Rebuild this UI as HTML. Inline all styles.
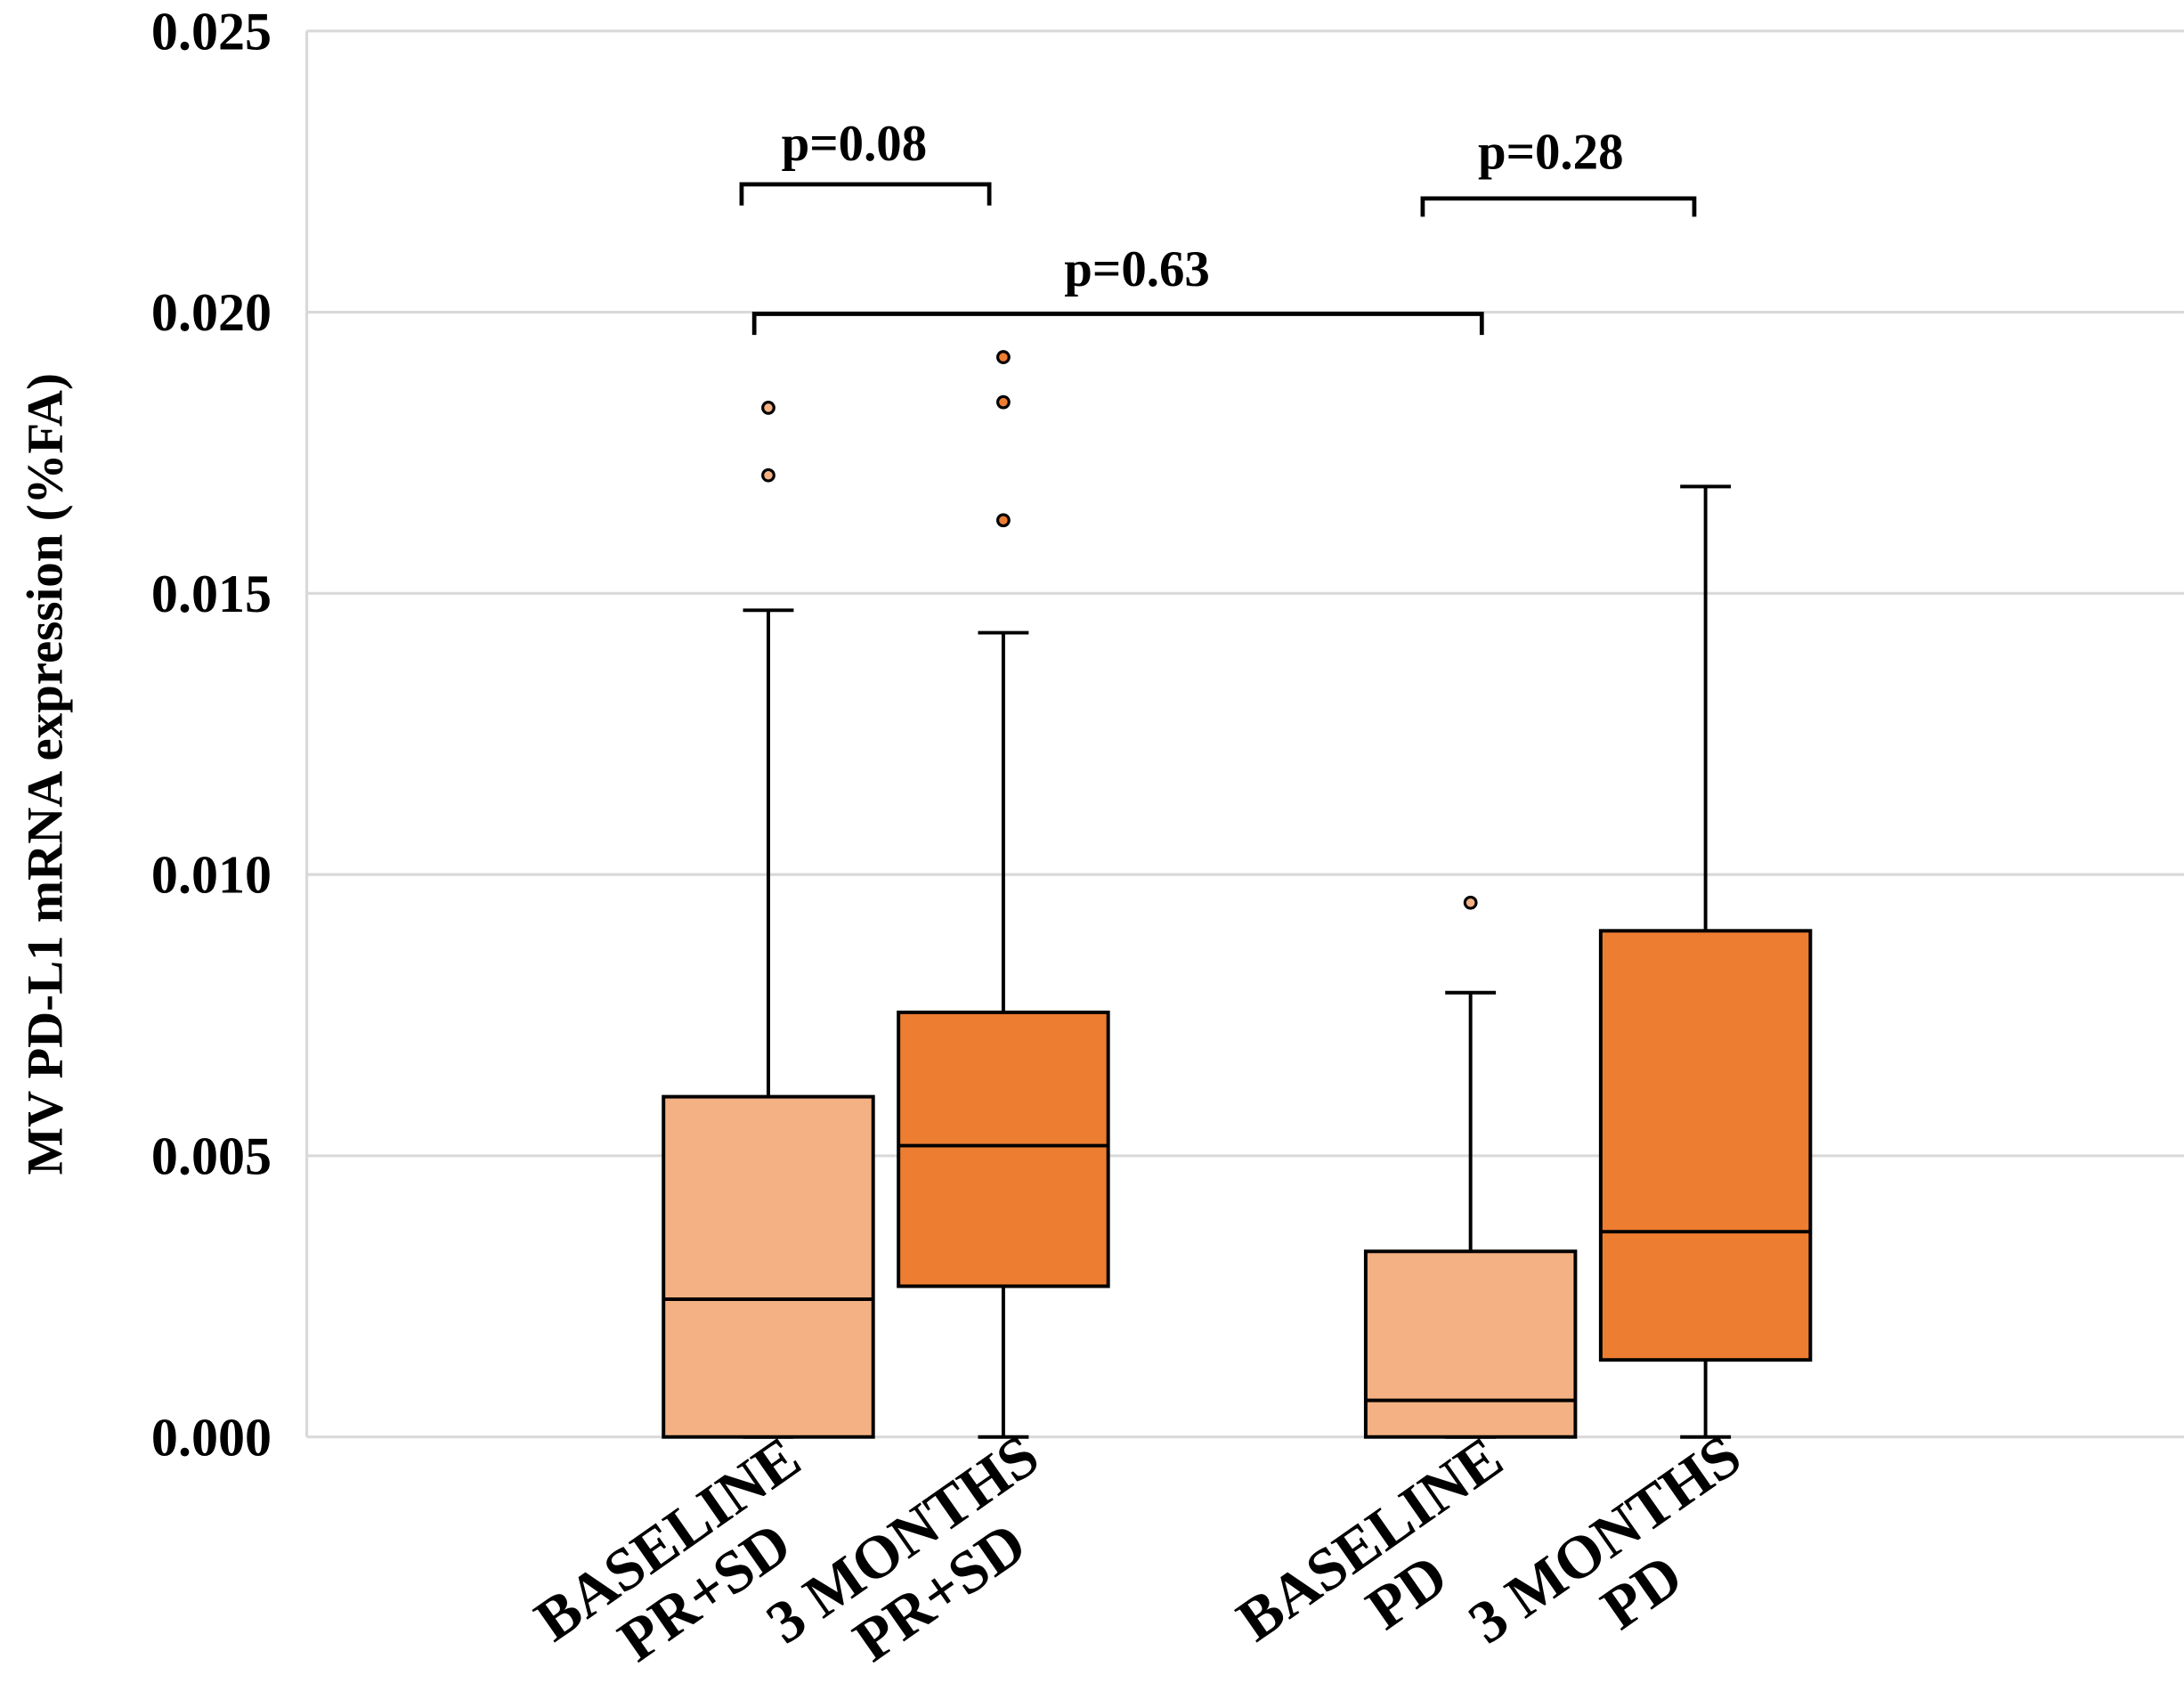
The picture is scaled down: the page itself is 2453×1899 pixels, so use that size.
<!DOCTYPE html>
<html><head><meta charset="utf-8"><style>html,body{margin:0;padding:0;background:#fff}svg{display:block}</style></head>
<body>
<svg id="chart" width="2453" height="1899" viewBox="0 0 1552 1201.5" xmlns="http://www.w3.org/2000/svg" font-family="'Liberation Serif', serif" font-weight="bold">
<g id="grid"></g><g id="boxes"></g><g id="xlabels"></g>
<text transform="translate(44,550) rotate(-90)" text-anchor="middle" font-size="36">MV PD-L1 mRNA expression (%FA)</text>
<g fill="none" stroke="#000" stroke-width="3">
<path d="M527,146 V131 H703 V146"/>
<path d="M1011,154 V141 H1204 V154"/>
<path d="M536,238 V223 H1053 V238"/>
</g>
<text x="607" y="114" text-anchor="middle" font-size="36">p=0.08</text>
<text x="1102" y="120" text-anchor="middle" font-size="36">p=0.28</text>
<text x="808" y="203" text-anchor="middle" font-size="36">p=0.63</text>
<script>
const ticks=[0,0.005,0.010,0.015,0.020,0.025];
const tickLabels=["0.000","0.005","0.010","0.015","0.020","0.025"];
const categories=[["BASELINE","PR+SD"],["3 MONTHS","PR+SD"],["BASELINE","PD"],["3 MONTHS","PD"]];
const whiskerMin=[0,0,0,0];
const q1=[0,0.00268,0,0.00137];
const median=[0.00245,0.00518,0.00065,0.00365];
const q3=[0.00605,0.00755,0.0033,0.009];
const whiskerMax=[0.0147,0.0143,0.0079,0.0169];
const outliers=[[0.0183,0.0171],[0.0192,0.0184,0.0163],[0.0095],[]];
const colors=["#F4B183","#ED7D31","#F4B183","#ED7D31"];
const NS="http://www.w3.org/2000/svg";
const y=v=>1021-v/0.025*999;
const xc=i=>[546,713,1045,1212][i];
const bw=149;
function mk(tag,attrs,parent){const e=document.createElementNS(NS,tag);for(const k in attrs)e.setAttribute(k,attrs[k]);parent.appendChild(e);return e;}
const grid=document.getElementById('grid');
ticks.forEach((t,i)=>{
  const l=mk('line',{x1:218,x2:1552,y1:y(t),y2:y(t),stroke:'#d9d9d9','stroke-width':2},grid);
  
  
  const tx=mk('text',{x:193,y:y(t)+13,'text-anchor':'end','font-size':38},grid);
  tx.textContent=tickLabels[i];
  
  
});
const ax=mk('line',{x1:218,x2:218,y1:y(0.025),y2:y(0),stroke:'#d9d9d9','stroke-width':2},grid);


const bx=document.getElementById('boxes');
categories.forEach((c,i)=>{
  const g=mk('g',{stroke:'#000','stroke-width':2.5},bx);
  
  
  const cx=xc(i);
  mk('line',{x1:cx,x2:cx,y1:y(q3[i]),y2:y(whiskerMax[i])},g);
  mk('line',{x1:cx-18,x2:cx+18,y1:y(whiskerMax[i]),y2:y(whiskerMax[i])},g);
  mk('line',{x1:cx,x2:cx,y1:y(q1[i]),y2:y(whiskerMin[i])},g);
  mk('line',{x1:cx-18,x2:cx+18,y1:y(whiskerMin[i]),y2:y(whiskerMin[i])},g);
  mk('rect',{x:cx-bw/2,y:y(q3[i]),width:bw,height:y(q1[i])-y(q3[i]),fill:colors[i]},g);
  mk('line',{x1:cx-bw/2,x2:cx+bw/2,y1:y(median[i]),y2:y(median[i])},g);
  outliers[i].forEach(o=>{
    const c2=mk('circle',{cx:cx,cy:y(o),r:4,fill:colors[i],'stroke-width':2},g);
    
    
  });
  const lg=mk('g',{transform:`translate(${cx-60},${1110}) rotate(-35)`,'font-size':43,'text-anchor':'middle'},document.getElementById('xlabels'));
  
  
  mk('text',{x:0,y:-6},lg).textContent=c[0];
  mk('text',{x:0,y:40},lg).textContent=c[1];
});
</script>
</svg>
</body></html>
